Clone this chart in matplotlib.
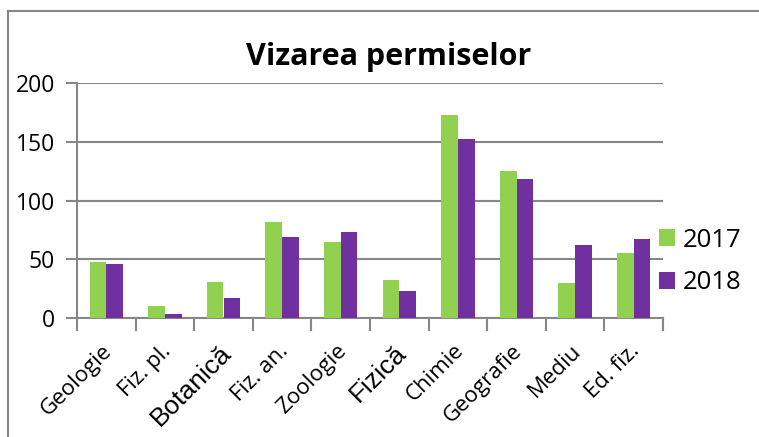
import matplotlib.pyplot as plt
import numpy as np

categories = ['Geologie', 'Fiz. pl.', 'Botanică', 'Fiz. an.', 'Zoologie',
              'Fizică', 'Chimie', 'Geografie', 'Mediu', 'Ed. fiz.']
vals_2017 = [48, 10, 31, 82, 65, 32, 173, 125, 30, 55]
vals_2018 = [46, 3, 17, 69, 73, 23, 152, 118, 62, 67]
yticks = [0, 50, 100, 150, 200]

plt.rcParams['font.family'] = ['Open Sans', 'DejaVu Sans']
grid_c = '#878787'

fig = plt.figure(figsize=(7.59, 4.37), dpi=100)
ax = fig.add_axes([77/759, 1-318/437, (663-77)/759, (318-83)/437])

x = np.arange(len(categories))
w = 0.285
ax.bar(x - w/2, vals_2017, w, color='#92D050', label='2017', zorder=3)
ax.bar(x + w/2, vals_2018, w, color='#7030A0', label='2018', zorder=3)

ax.set_xlim(-0.5, len(categories) - 0.5)
ax.set_ylim(0, 200)
ax.set_yticks(yticks)
ax.set_yticklabels([str(v) for v in yticks], fontsize=16.5)
ax.yaxis.grid(True, color=grid_c, lw=1.5, zorder=0)
ax.tick_params(axis='y', length=8, width=1.5, color=grid_c, pad=8)

ax.set_xticks(np.arange(len(categories) + 1) - 0.5)
ax.set_xticklabels([])
ax.tick_params(axis='x', length=9, width=1.5, color=grid_c)
for i, name in enumerate(categories):
    if name in ('Botanică', 'Fizică'):
        fam, fs = ['Liberation Sans'], 19
    else:
        fam, fs = ['Open Sans', 'DejaVu Sans'], 16
    ax.text(i - 0.08, -19, name, rotation=45, ha='right', va='top',
            rotation_mode='anchor', fontsize=fs, family=fam,
            transform=ax.transData, clip_on=False)

for s in ['top', 'right']:
    ax.spines[s].set_visible(False)
ax.spines['left'].set_color(grid_c)
ax.spines['left'].set_linewidth(1.5)
ax.spines['bottom'].set_color(grid_c)
ax.spines['bottom'].set_linewidth(1.5)

fig.text(389/759, 1-65/437, 'Vizarea permiselor', ha='center', va='baseline',
         fontsize=22, fontweight='bold')

ax.legend(loc='center left', bbox_to_anchor=(659/759, 1-261.5/437),
          bbox_transform=fig.transFigure, frameon=False, borderpad=0,
          borderaxespad=0, fontsize=18.5, handlelength=0.64, handleheight=0.64,
          handletextpad=0.3, labelspacing=0.68)

# chart border (cropped at right and bottom)
fig.add_artist(plt.Line2D([8/759, 8/759], [0, 1-11/437], color=grid_c, lw=1.5))
fig.add_artist(plt.Line2D([8/759, 1], [1-11/437, 1-11/437], color=grid_c, lw=1.5))

fig.savefig('out.png', dpi=100)
